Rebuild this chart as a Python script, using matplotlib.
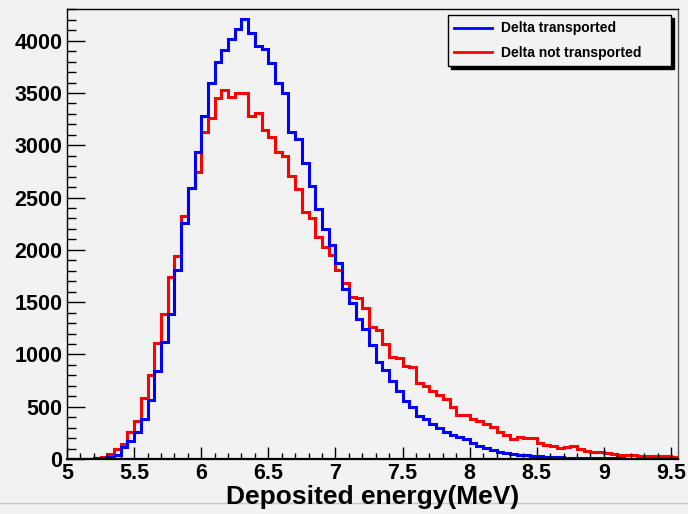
import numpy as np
import matplotlib
matplotlib.use("Agg")
import matplotlib.pyplot as plt
from matplotlib.ticker import MultipleLocator, FormatStrFormatter
from matplotlib.lines import Line2D

# histogram binning (MeV)
E_MIN = 5.0
BIN_W = 0.05
N_BINS = 91

# counts per bin
delta_transported = [
    2, 2, 3, 4, 6, 8, 22, 40, 110, 170,
    261, 380, 567, 843, 1119, 1386, 1807, 2253, 2592, 2932,
    3283, 3599, 3800, 3911, 4013, 4111, 4204, 4070, 3949, 3920,
    3789, 3596, 3496, 3125, 3056, 2833, 2613, 2387, 2200, 2050,
    1871, 1622, 1488, 1340, 1246, 1090, 930, 848, 747, 652,
    551, 494, 412, 380, 335, 293, 257, 229, 214, 191,
    150, 128, 103, 82, 66, 60, 49, 42, 37, 30,
    24, 21, 17, 15, 13, 12, 10, 9, 8, 7,
    6, 6, 5, 4, 4, 3, 3, 2, 2, 2,
    1,
]
delta_not_transported = [
    1, 1, 2, 3, 6, 18, 45, 93, 140, 261,
    366, 580, 805, 1107, 1387, 1738, 1942, 2327, 2590, 2747,
    3129, 3257, 3448, 3528, 3464, 3502, 3502, 3284, 3305, 3145,
    3081, 2938, 2900, 2710, 2580, 2365, 2301, 2120, 2030, 1948,
    1803, 1679, 1548, 1538, 1441, 1265, 1237, 1100, 972, 970,
    886, 876, 724, 701, 653, 612, 572, 494, 421, 421,
    379, 368, 335, 302, 255, 225, 195, 211, 202, 198,
    156, 138, 129, 104, 114, 125, 97, 80, 71, 63,
    58, 49, 40, 39, 34, 32, 27, 26, 25, 25,
    17,
]

edges = E_MIN + BIN_W * np.arange(N_BINS + 1)

BG = "#f2f2f2"
plt.rcParams["font.family"] = ["Liberation Sans", "DejaVu Sans"]
plt.rcParams["font.weight"] = "bold"

fig = plt.figure(figsize=(6.88, 5.14), dpi=100, facecolor=BG)
ax = fig.add_axes([67 / 688, 55 / 514, 610.7 / 688, 449.7 / 514], facecolor=BG)

ax.stairs(delta_not_transported, edges, baseline=None, color="#ff0000", lw=2.2)
ax.stairs(delta_transported, edges, baseline=None, color="#0000ff", lw=2.2)

ax.set_xlim(5.0, 9.55)
ax.set_ylim(0, 4300)

ax.xaxis.set_major_locator(MultipleLocator(0.5))
ax.xaxis.set_minor_locator(MultipleLocator(0.1))
ax.xaxis.set_major_formatter(FormatStrFormatter("%g"))
ax.yaxis.set_major_locator(MultipleLocator(500))
ax.yaxis.set_minor_locator(MultipleLocator(100))

ax.tick_params(axis="x", which="major", direction="in", length=9, width=1, pad=3, labelsize=15.5)
ax.tick_params(axis="x", which="minor", direction="in", length=4.5, width=1)
ax.tick_params(axis="y", which="major", direction="in", length=13, width=1, pad=3.5, labelsize=15.5)
ax.tick_params(axis="y", which="minor", direction="in", length=6.5, width=1)
for lab in ax.get_xticklabels() + ax.get_yticklabels():
    lab.set_fontweight("bold")

for side in ["left", "top", "right"]:
    ax.spines[side].set_linewidth(1.0)
ax.spines["right"].set_color("#555555")
ax.spines["bottom"].set_linewidth(1.6)

ax.set_xlabel("Deposited energy(MeV)", fontsize=19, fontweight="bold", va="center")
ax.xaxis.set_label_coords(0.5, -0.085)

handles = [Line2D([], [], color="#0000ff", lw=2),
           Line2D([], [], color="#ff0000", lw=2)]
leg = ax.legend(handles, ["Delta transported", "Delta not transported"],
                loc="upper left", bbox_to_anchor=(0.624, 0.874, 0.365, 0.113),
                mode="expand", borderaxespad=0, fancybox=False,
                facecolor=BG, edgecolor="black", framealpha=1,
                shadow={"color": "black", "alpha": 1, "ox": 2.2, "oy": -2.2},
                prop={"size": 10, "weight": "bold"},
                handlelength=2.7, handletextpad=0.65, labelspacing=0.75,
                borderpad=0.45)
leg.get_frame().set_linewidth(1.0)

# canvas edge line as in the ROOT export, kept under the axis title
fig.add_artist(Line2D([0, 1], [11.5 / 514, 11.5 / 514], color="#c8c8c8", lw=1, zorder=-1))

fig.savefig("out.png", dpi=100, facecolor=BG)
